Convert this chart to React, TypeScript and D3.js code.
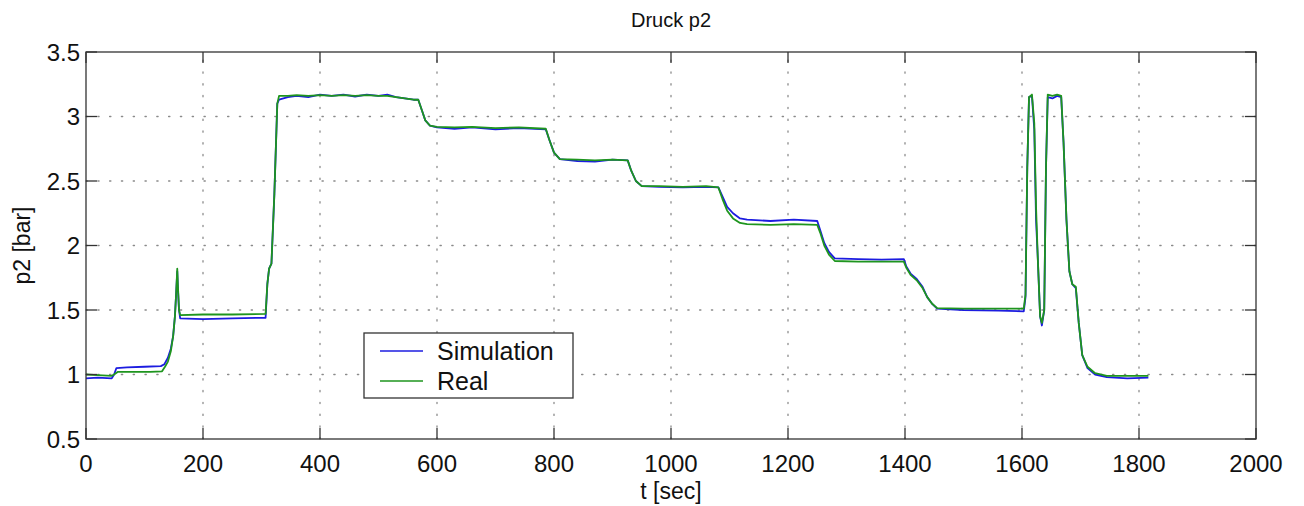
import { useEffect, useRef } from 'react'
import * as d3 from 'd3'

const simulation: [number, number][] = [
  [0, 0.97], [20, 0.975], [44, 0.97], [48, 1.0], [52, 1.05], [70, 1.055], [100, 1.06], [128, 1.065],
  [134, 1.08], [140, 1.13], [145, 1.2], [149, 1.3], [152, 1.45], [154, 1.62], [156, 1.8], [157, 1.68],
  [159, 1.5], [161, 1.435], [200, 1.43], [250, 1.435], [307, 1.44], [310, 1.7], [313, 1.82], [317, 1.86],
  [322, 2.4], [327, 3.1], [330, 3.13], [345, 3.15], [360, 3.16], [380, 3.15], [400, 3.17], [420, 3.16],
  [440, 3.17], [460, 3.155], [480, 3.17], [500, 3.16], [515, 3.17], [530, 3.15], [545, 3.14], [560, 3.13],
  [568, 3.13], [574, 3.05], [580, 2.97], [588, 2.93], [600, 2.915], [630, 2.905], [660, 2.915], [700, 2.9],
  [740, 2.91], [786, 2.9], [792, 2.82], [800, 2.72], [810, 2.67], [840, 2.655], [870, 2.65], [900, 2.665],
  [926, 2.66], [932, 2.58], [940, 2.5], [950, 2.46], [980, 2.455], [1020, 2.45], [1060, 2.455], [1081, 2.45],
  [1088, 2.38], [1096, 2.3], [1106, 2.25], [1118, 2.21], [1130, 2.2], [1170, 2.19], [1210, 2.2], [1250, 2.19],
  [1255, 2.12], [1262, 2.02], [1270, 1.95], [1280, 1.9], [1320, 1.895], [1360, 1.89], [1398, 1.895],
  [1402, 1.84], [1410, 1.78], [1420, 1.74], [1430, 1.68], [1438, 1.6], [1446, 1.55], [1455, 1.51],
  [1500, 1.5], [1560, 1.495], [1603, 1.49], [1606, 1.6], [1609, 2.6], [1612, 3.15], [1617, 3.16],
  [1621, 2.9], [1624, 2.2], [1627, 1.9], [1631, 1.45], [1634, 1.38], [1638, 1.5], [1641, 2.6], [1644, 3.15],
  [1652, 3.14], [1660, 3.16], [1667, 3.15], [1671, 2.8], [1676, 2.2], [1681, 1.8], [1686, 1.7], [1692, 1.67],
  [1697, 1.4], [1703, 1.15], [1712, 1.05], [1725, 1.0], [1745, 0.98], [1780, 0.97], [1816, 0.975],
]

const real: [number, number][] = [
  [0, 1.0], [20, 0.995], [44, 0.99], [48, 1.0], [54, 1.02], [80, 1.02], [110, 1.02], [130, 1.025],
  [135, 1.06], [140, 1.1], [145, 1.18], [149, 1.3], [152, 1.45], [154, 1.62], [156, 1.82], [157, 1.7],
  [159, 1.5], [161, 1.46], [200, 1.465], [250, 1.465], [307, 1.47], [310, 1.7], [313, 1.82], [317, 1.86],
  [322, 2.4], [327, 3.1], [330, 3.16], [345, 3.16], [360, 3.165], [380, 3.16], [400, 3.165], [420, 3.16],
  [440, 3.165], [460, 3.16], [480, 3.165], [500, 3.16], [515, 3.16], [530, 3.15], [545, 3.14], [560, 3.13],
  [568, 3.13], [574, 3.05], [580, 2.97], [588, 2.93], [600, 2.92], [630, 2.915], [660, 2.92], [700, 2.91],
  [740, 2.915], [786, 2.905], [792, 2.82], [800, 2.72], [810, 2.67], [840, 2.665], [870, 2.66], [900, 2.665],
  [926, 2.66], [932, 2.58], [940, 2.5], [950, 2.46], [980, 2.46], [1020, 2.455], [1060, 2.46], [1081, 2.45],
  [1088, 2.36], [1096, 2.27], [1106, 2.21], [1118, 2.175], [1130, 2.165], [1170, 2.16], [1210, 2.165], [1250, 2.16],
  [1255, 2.1], [1262, 2.0], [1270, 1.93], [1280, 1.88], [1320, 1.875], [1360, 1.875], [1398, 1.875],
  [1402, 1.83], [1410, 1.77], [1420, 1.73], [1430, 1.67], [1438, 1.6], [1446, 1.55], [1455, 1.515],
  [1500, 1.51], [1560, 1.51], [1603, 1.51], [1606, 1.62], [1609, 2.6], [1612, 3.15], [1617, 3.17],
  [1621, 2.95], [1624, 2.3], [1627, 1.9], [1631, 1.45], [1634, 1.4], [1638, 1.5], [1641, 2.6], [1644, 3.17],
  [1652, 3.16], [1660, 3.17], [1667, 3.16], [1671, 2.8], [1676, 2.2], [1681, 1.8], [1686, 1.7], [1692, 1.68],
  [1697, 1.4], [1703, 1.15], [1712, 1.06], [1725, 1.01], [1745, 0.99], [1780, 0.99], [1816, 0.99],
]

const xTicks = [0, 200, 400, 600, 800, 1000, 1200, 1400, 1600, 1800, 2000]
const yTicks = [0.5, 1, 1.5, 2, 2.5, 3, 3.5]
const seriesNames = ['Simulation', 'Real']
const seriesColors = ['#1c1ce0', '#1e951e']

const W = 1304
const H = 506
const FONT = 'Liberation Sans, Arial, Helvetica, sans-serif'

export default function App() {
  const ref = useRef<SVGSVGElement>(null)

  useEffect(() => {
    const svg = d3.select(ref.current)
    svg.selectAll('*').remove()

    const plot = { left: 86, right: 1256, top: 52, bottom: 439 }
    const x = d3.scaleLinear().domain([0, 2000]).range([plot.left, plot.right])
    const y = d3.scaleLinear().domain([0.5, 3.5]).range([plot.bottom, plot.top])

    svg.append('rect').attr('width', W).attr('height', H).attr('fill', '#fff')

    // dotted grid
    const grid = svg.append('g').attr('stroke', '#8a8a8a').attr('stroke-width', 1.3)
      .attr('stroke-dasharray', '1.3,10.5').attr('stroke-linecap', 'round')
    xTicks.slice(1, -1).forEach(t => {
      grid.append('line').attr('x1', x(t)).attr('x2', x(t)).attr('y1', plot.bottom).attr('y2', plot.top)
    })
    yTicks.slice(1, -1).forEach(t => {
      grid.append('line').attr('x1', plot.left).attr('x2', plot.right).attr('y1', y(t)).attr('y2', y(t))
    })

    // series
    const line = d3.line<[number, number]>().x(d => x(d[0])).y(d => y(d[1]))
    ;[simulation, real].forEach((data, i) => {
      svg.append('path').datum(data).attr('d', line).attr('fill', 'none')
        .attr('stroke', seriesColors[i]).attr('stroke-width', 1.8).attr('stroke-linejoin', 'round')
    })

    // frame + inward ticks
    const ax = svg.append('g').attr('stroke', '#333').attr('stroke-width', 1.3)
    ax.append('rect').attr('x', plot.left).attr('y', plot.top)
      .attr('width', plot.right - plot.left).attr('height', plot.bottom - plot.top).attr('fill', 'none')
    const tl = 11
    xTicks.forEach(t => {
      ax.append('line').attr('x1', x(t)).attr('x2', x(t)).attr('y1', plot.bottom).attr('y2', plot.bottom - tl)
      ax.append('line').attr('x1', x(t)).attr('x2', x(t)).attr('y1', plot.top).attr('y2', plot.top + tl)
    })
    yTicks.forEach(t => {
      ax.append('line').attr('x1', plot.left).attr('x2', plot.left + tl).attr('y1', y(t)).attr('y2', y(t))
      ax.append('line').attr('x1', plot.right).attr('x2', plot.right - tl).attr('y1', y(t)).attr('y2', y(t))
    })

    const text = svg.append('g').attr('font-family', FONT).attr('fill', '#111')
    xTicks.forEach(t => {
      text.append('text').attr('x', x(t)).attr('y', plot.bottom + 33).attr('text-anchor', 'middle')
        .attr('font-size', 24).text(t)
    })
    yTicks.forEach(t => {
      text.append('text').attr('x', plot.left - 6).attr('y', y(t) + 8.5).attr('text-anchor', 'end')
        .attr('font-size', 24).text(t)
    })
    text.append('text').attr('x', (plot.left + plot.right) / 2).attr('y', 27).attr('text-anchor', 'middle')
      .attr('font-size', 20).text('Druck p2')
    text.append('text').attr('x', (plot.left + plot.right) / 2).attr('y', 499).attr('text-anchor', 'middle')
      .attr('font-size', 23).text('t [sec]')
    text.append('text').attr('transform', `translate(30,${(plot.top + plot.bottom) / 2}) rotate(-90)`)
      .attr('text-anchor', 'middle').attr('font-size', 23).text('p2 [bar]')

    // legend
    const lg = svg.append('g').attr('transform', 'translate(364,333)')
    lg.append('rect').attr('width', 209).attr('height', 65).attr('fill', '#fff')
      .attr('stroke', '#333').attr('stroke-width', 1.3)
    seriesNames.forEach((name, i) => {
      const yy = 18 + i * 30
      lg.append('line').attr('x1', 16).attr('x2', 59).attr('y1', yy).attr('y2', yy)
        .attr('stroke', seriesColors[i]).attr('stroke-width', 1.3)
      lg.append('text').attr('x', 73).attr('y', yy + 9).attr('font-family', FONT)
        .attr('font-size', 25).attr('fill', '#111').text(name)
    })
  }, [])

  return <svg ref={ref} width={W} height={H} style={{ position: 'absolute', left: 0, top: 0 }} />
}
